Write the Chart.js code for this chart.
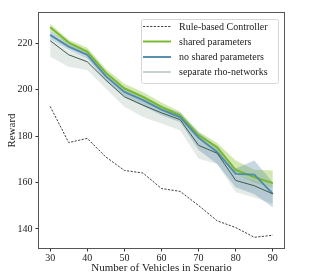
<!DOCTYPE html>
<html><head><meta charset="utf-8">
<script src="https://cdn.jsdelivr.net/npm/chart.js@4.4.0/dist/chart.umd.min.js"></script>
<style>html,body{margin:0;padding:0;background:#fff}#wrap{width:316px;height:276px}</style>
</head><body><div id="wrap"><canvas id="c" width="316" height="276"></canvas></div>
<script>
const vehicles = [30,35,40,45,50,55,60,65,70,75,80,85,90];
const xTicks = [30,40,50,60,70,80,90];
const yTicks = [140,160,180,200,220];
const ruleBased = [192.8,177.2,179.0,171.0,165.2,164.1,157.4,156.2,150.1,143.5,140.6,136.4,137.3];
const sharedMean = [226.9,220.3,216.4,207.3,200.5,196.9,192.6,189.0,180.3,175.2,165.4,162.3,159.7];
const sharedLow  = [225.5,219.0,215.0,206.0,199.0,195.0,191.0,187.5,178.5,173.0,163.5,160.0,157.5];
const sharedHigh = [228.4,221.5,218.0,209.0,202.5,199.0,194.5,190.5,182.0,177.0,169.5,165.5,165.2];
const noSharedMean = [223.6,218.5,215.0,205.8,199.0,195.5,191.4,188.2,179.3,173.1,163.7,163.4,155.1];
const noSharedLow  = [222.0,217.0,213.5,204.0,197.0,193.0,189.0,186.0,174.0,168.0,158.0,155.0,149.3];
const noSharedHigh = [225.5,220.0,216.5,207.5,201.0,197.5,193.0,190.0,181.5,175.5,166.0,169.5,160.0];
const sepMean = [221.1,215.0,212.0,204.1,196.9,193.3,190.0,187.1,176.0,172.6,160.9,158.6,155.1];
const sepLow  = [214.2,209.9,208.4,200.5,192.6,188.2,185.4,182.5,170.2,168.0,155.8,153.6,151.0];
const sepHigh = [222.5,216.5,214.0,205.5,198.5,195.0,191.5,188.5,178.0,174.5,163.0,161.0,157.0];
const legendLabels = ['Rule-based Controller','shared parameters','no shared parameters','separate rho-networks'];
const xTitle = 'Number of Vehicles in Scenario';
const yTitle = 'Reward';

const FONT = "'Liberation Serif', 'DejaVu Serif', serif";
const pts = a => a.map((v,i)=>({x:vehicles[i], y:v}));
const C = {
  rule:'#2a2a2a', shared:'#76b82a', noShared:'#4f8cab', sep:'#3f5a4a', sepLegend:'#8ea596',
  sharedBand:'rgba(140,195,50,0.38)', noSharedBand:'rgba(80,135,165,0.32)', sepBand:'rgba(130,160,140,0.22)'
};
const lineDs = (data, color, width, order, dash) => ({data:pts(data), borderColor:color, borderWidth:width, pointRadius:0, fill:false, order, borderDash:dash||[], tension:0});
const bandDs = (data, fill, bg, order) => ({data:pts(data), borderWidth:0, borderColor:'rgba(0,0,0,0)', backgroundColor:bg, pointRadius:0, fill, order, tension:0});

const datasets = [
  bandDs(sepHigh, '+1', C.sepBand, 30),
  bandDs(sepLow, false, 'rgba(0,0,0,0)', 31),
  bandDs(sharedHigh, '+1', C.sharedBand, 26),
  bandDs(sharedLow, false, 'rgba(0,0,0,0)', 27),
  bandDs(noSharedHigh, '+1', C.noSharedBand, 22),
  bandDs(noSharedLow, false, 'rgba(0,0,0,0)', 23),
  lineDs(ruleBased, C.rule, 0.9, 4, [2.2,1.4]),
  lineDs(sharedMean, C.shared, 1.9, 3),
  lineDs(noSharedMean, C.noShared, 1.9, 2),
  lineDs(sepMean, C.sep, 1.0, 1),
];

const legendPlugin = {
  id:'legendBox',
  afterDraw(chart){
    const ctx = chart.ctx, a = chart.chartArea;
    ctx.save();
    ctx.strokeStyle = '#555'; ctx.lineWidth = 1;
    ctx.strokeRect(Math.round(a.left)-0.5, Math.round(a.top)-0.5, Math.round(a.right-a.left)+1, Math.round(a.bottom-a.top)+1);
    const bx=141.5, by=19.5, bw=137, bh=64;
    ctx.fillStyle='rgba(255,255,255,0.85)'; ctx.strokeStyle='#d6d6d6'; ctx.lineWidth=1;
    ctx.beginPath(); ctx.roundRect(bx,by,bw,bh,2); ctx.fill(); ctx.stroke();
    const colors=[C.rule,C.shared,C.noShared,C.sepLegend], widths=[0.9,1.9,1.9,1.0];
    const ys=[26.5,41.5,57,72];
    ctx.font = '10px '+FONT; ctx.textBaseline='middle'; ctx.textAlign='left';
    legendLabels.forEach((t,i)=>{
      ctx.beginPath(); ctx.strokeStyle=colors[i]; ctx.lineWidth=widths[i];
      ctx.setLineDash(i===0?[2.2,1.4]:[]);
      ctx.moveTo(143,ys[i]); ctx.lineTo(171,ys[i]); ctx.stroke();
      ctx.setLineDash([]);
      ctx.fillStyle='#222'; ctx.fillText(t,179,ys[i]+0.5);
    });
    ctx.restore();
  }
};

new Chart(document.getElementById('c'), {
  type:'line',
  data:{datasets},
  plugins:[legendPlugin],
  options:{
    responsive:false, animation:false, devicePixelRatio:1,
    layout:{padding:{top:13,right:32,left:0,bottom:0}},
    plugins:{legend:{display:false}, tooltip:{enabled:false}},
    scales:{
      x:{type:'linear', min:27, max:93,
        afterBuildTicks:s=>{s.ticks=xTicks.map(v=>({value:v}));},
        afterFit:s=>{s.height=28;},
        grid:{drawOnChartArea:false, drawTicks:true, tickLength:3.5, color:'#333'},
        border:{display:false},
        ticks:{font:{family:FONT,size:10}, color:'#222', padding:1, maxRotation:0, autoSkip:false},
        title:{display:true, text:xTitle, font:{family:FONT,size:11}, color:'#222', padding:{top:0,bottom:1}}
      },
      y:{type:'linear', min:131.8, max:233,
        afterBuildTicks:s=>{s.ticks=yTicks.map(v=>({value:v}));},
        afterFit:s=>{s.width=39;},
        grid:{drawOnChartArea:false, drawTicks:true, tickLength:3.5, color:'#333'},
        border:{display:false},
        ticks:{font:{family:FONT,size:10}, color:'#222', padding:3, autoSkip:false},
        title:{display:true, text:yTitle, font:{family:FONT,size:11}, color:'#222', padding:{top:6,bottom:0}}
      }
    }
  }
});
</script></body></html>
